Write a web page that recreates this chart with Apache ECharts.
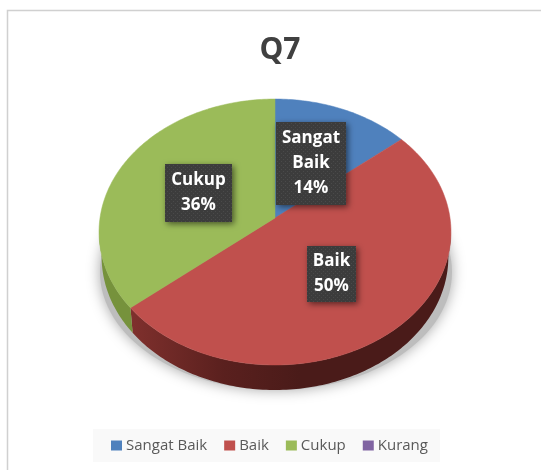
<!DOCTYPE html>
<html>
<head>
<meta charset="utf-8">
<style>
  html, body { margin: 0; padding: 0; background: #fff; }
  #chart { width: 541px; height: 470px; }
</style>
<script src="https://cdn.jsdelivr.net/npm/echarts@6/dist/echarts.min.js"></script>
</head>
<body>
<div id="chart"></div>
<script>
const categories = ["Sangat Baik", "Baik", "Cukup", "Kurang"];
const shares = [14, 50, 36, 0];
const sliceColors = ["#4f81bd", "#c0504d", "#9bbb59", "#8064a2"];
const labelLines = ["Sangat\nBaik\n14%", "Baik\n50%", "Cukup\n36%", ""];

// label boxes [left, top, width, height]
const labelBoxes = [[276, 122, 70, 83], [307, 246, 49, 56], [165, 164, 67, 58], null];

// projected disc: apex of the slices, radii and perspective
const apexX = 275, apexY = 218, radiusX = 175, radiusY = 131.5, tilt = 0.1053;
const depth = 25, bottomScale = 0.985;

const total = shares.reduce((a, b) => a + b, 0);

function rim(deg) {
  const t = deg * Math.PI / 180;
  const u = Math.sin(t), v = -Math.cos(t);
  const w = 1 - tilt * v;
  return [apexX + radiusX * u / w, apexY + radiusY * v / w];
}

function arcPoints(from, to) {
  const pts = [];
  const n = Math.max(1, Math.ceil(to - from));
  for (let i = 0; i <= n; i++) pts.push(rim(from + (to - from) * i / n));
  return pts;
}

// little dotted texture of the label boxes
const dots = document.createElement("canvas");
dots.width = dots.height = 4;
const dotsCtx = dots.getContext("2d");
dotsCtx.fillStyle = "#3c3c3c";
dotsCtx.fillRect(0, 0, 4, 4);
dotsCtx.fillStyle = "#4a4a4a";
dotsCtx.fillRect(1, 1, 1, 1);
dotsCtx.fillRect(3, 3, 1, 1);

function wallFill(index) {
  if (index === 1) {
    return new echarts.graphic.LinearGradient(131, 0, 300, 0, [
      { offset: 0, color: "#7f302d" },
      { offset: 0.55, color: "#5a201e" },
      { offset: 1, color: "#4a1b19" }
    ], true);
  }
  return "#76923c";
}

function renderSlice(index) {
  return function (params, api) {
    const value = api.value(0);
    if (!value) return { type: "group", children: [] };
    let before = 0;
    for (let i = 0; i < index; i++) before += shares[i];
    const start = before / total * 360;
    const end = (before + value) / total * 360;
    const children = [];

    // side wall, only the front part of the rim shows
    const wallFrom = Math.max(start, 96), wallTo = Math.min(end, 264);
    if (wallTo > wallFrom) {
      const top = arcPoints(wallFrom, wallTo);
      const bottom = top.map(p => [apexX + (p[0] - apexX) * bottomScale, p[1] + depth]).reverse();
      children.push({
        type: "polygon",
        shape: { points: top.concat(bottom) },
        style: { fill: wallFill(index) },
        z2: 1
      });
    }

    children.push({
      type: "polygon",
      shape: { points: [[apexX, apexY]].concat(arcPoints(start, end)) },
      style: { fill: sliceColors[index], stroke: sliceColors[index], lineWidth: 0.5 },
      z2: 2
    });

    const box = labelBoxes[index];
    children.push({
      type: "rect",
      shape: { x: box[0], y: box[1], width: box[2], height: box[3] },
      style: {
        fill: { image: dots, repeat: "repeat" },
        shadowBlur: 6,
        shadowOffsetX: 2,
        shadowOffsetY: 2,
        shadowColor: "rgba(0,0,0,0.55)"
      },
      z2: 10
    });
    children.push({
      type: "text",
      x: box[0] + box[2] / 2,
      y: box[1] + box[3] / 2,
      style: {
        text: labelLines[index],
        fill: "#ffffff",
        font: "bold 17px 'Open Sans'",
        lineHeight: 25,
        align: "center",
        verticalAlign: "middle"
      },
      z2: 11
    });
    return { type: "group", children: children };
  };
}

const sliceSeries = categories.map((name, i) => ({
  name: name,
  type: "custom",
  coordinateSystem: "none",
  silent: true,
  animation: false,
  itemStyle: { color: sliceColors[i] },
  data: [[shares[i]]],
  renderItem: renderSlice(i)
}));

// soft ground shadow under the disc
const groundShadow = {
  name: "shadow",
  type: "custom",
  coordinateSystem: "none",
  silent: true,
  animation: false,
  data: [[0]],
  renderItem: function () {
    return {
      type: "ellipse",
      shape: { cx: 276, cy: 272, rx: 176, ry: 118 },
      style: {
        fill: "#bdbdbd",
        shadowBlur: 14,
        shadowColor: "rgba(0,0,0,0.35)"
      },
      z2: 0
    };
  }
};

const myChart = echarts.init(document.getElementById("chart"));
myChart.setOption({
  backgroundColor: "#ffffff",
  animation: false,
  color: sliceColors,
  title: {
    text: "Q7",
    left: 275,
    top: 30,
    textAlign: "center",
    textStyle: { fontFamily: "Open Sans", fontSize: 30, fontWeight: "bold", color: "#404040" }
  },
  legend: {
    data: categories,
    left: 93,
    top: 429,
    width: 365,
    height: 34,
    padding: [9, 12, 9, 18],
    itemGap: 17,
    itemWidth: 11,
    itemHeight: 10,
    icon: "rect",
    selectedMode: false,
    backgroundColor: "#f9f9f9",
    textStyle: { fontFamily: "Open Sans", fontSize: 15, color: "#595959", padding: [0, 0, 0, -1] }
  },
  graphic: [{
    type: "polyline",
    silent: true,
    shape: { points: [[541, 10.5], [7.5, 10.5], [7.5, 470]] },
    style: { stroke: "#d0d0d0", lineWidth: 1.5, fill: null }
  }],
  series: [groundShadow].concat(sliceSeries)
});
</script>
</body>
</html>
